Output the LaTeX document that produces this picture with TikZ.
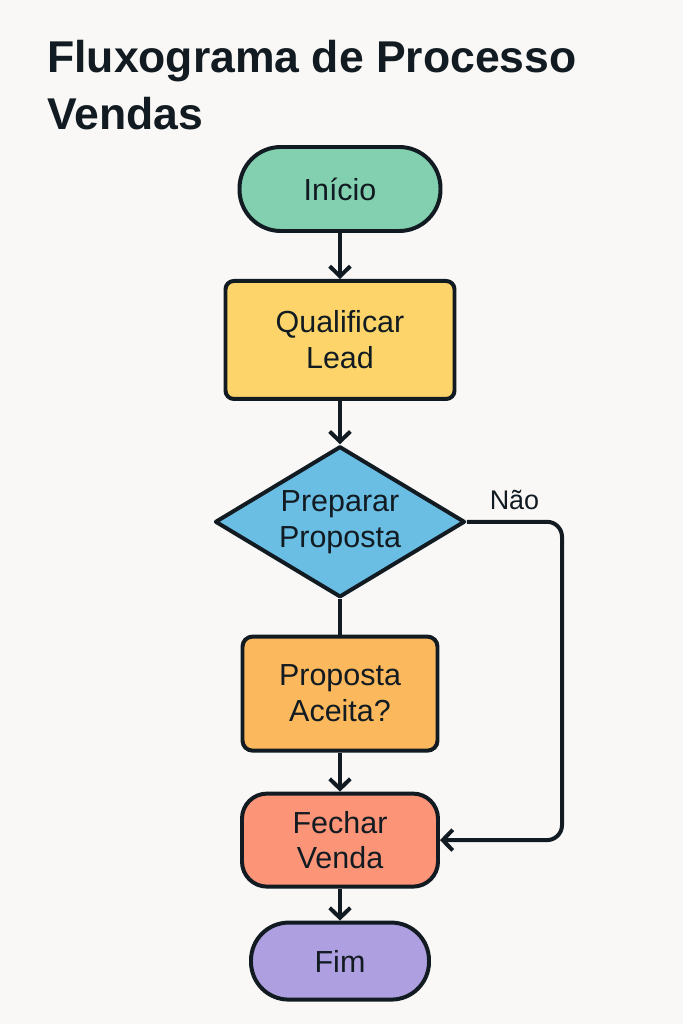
\documentclass[tikz,border=0pt]{standalone}
\usepackage{fontspec}
\setmainfont{Liberation Sans}
\usepackage{tikz}
\usetikzlibrary{shapes.geometric, arrows.meta, positioning, backgrounds}
\definecolor{paperbg}{RGB}{249,248,246}
\definecolor{inkdark}{RGB}{17,27,33}
\definecolor{startgreen}{RGB}{130,208,176}
\definecolor{leadyellow}{RGB}{252,212,106}
\definecolor{propblue}{RGB}{107,190,227}
\definecolor{aceitaorange}{RGB}{252,184,92}
\definecolor{fecharsalmon}{RGB}{252,148,120}
\definecolor{fimpurple}{RGB}{174,160,224}
\tikzset{
  flowbox/.style={rectangle, draw=inkdark, line width=3.4pt, line join=round,
    align=center, text=inkdark, inner sep=0pt,
    font=\fontsize{26}{30.7}\selectfont},
  terminal/.style={flowbox, rounded corners=1.2cm},
  stepbox/.style={flowbox, rounded corners=0.25cm},
  decision/.style={flowbox, diamond, aspect=1.66},
  arrow/.style={-{Straight Barb[length=0.3cm, width=0.62cm]},
    line width=3.4pt, color=inkdark},
  flowline/.style={line width=3.4pt, color=inkdark},
  titletext/.style={font=\fontsize{38}{48}\selectfont\bfseries, text=inkdark,
    inner sep=0pt, anchor=base west},
}

\begin{document}
\begin{tikzpicture}

  \begin{scope}[on background layer]
    \fill[paperbg] (0,0) rectangle (20.49,-30.72);
  \end{scope}
  \useasboundingbox (0,0) rectangle (20.49,-30.72);

  %% ── Title ───────────────────────────────────────────────────
  \node[titletext] (title) at (1.41,-2.19) {Fluxograma de Processo};
  \node[titletext] (subtitle) at ([yshift=-1.71cm]title.base west) {Vendas};

  %% ── Main flow ───────────────────────────────────────────────
  \node[terminal, fill=startgreen, minimum width=6.03cm, minimum height=2.52cm,
        rounded corners=1.24cm] (inicio) at (10.2,-5.67) {Início};
  \node[stepbox, fill=leadyellow, below=1.38cm of inicio,
        minimum width=6.87cm, minimum height=3.54cm] (qualificar)
    {Qualificar\\Lead};
  \node[decision, fill=propblue, below=1.3cm of qualificar,
        minimum width=7.5cm, minimum height=4.53cm] (preparar)
    {Preparar\\Proposta};
  \node[stepbox, fill=aceitaorange, below=1.06cm of preparar,
        minimum width=5.85cm, minimum height=3.42cm, rounded corners=0.3cm] (aceita)
    {Proposta\\Aceita?};
  \node[stepbox, fill=fecharsalmon, below=1.17cm of aceita,
        minimum width=5.88cm, minimum height=2.79cm, rounded corners=0.75cm] (fechar)
    {Fechar\\Venda};
  \node[terminal, fill=fimpurple, below=0.96cm of fechar,
        minimum width=5.34cm, minimum height=2.31cm, rounded corners=1.13cm] (fim)
    {Fim};

  \draw[arrow] (inicio) -- (qualificar);
  \draw[arrow] (qualificar) -- (preparar);
  \draw[flowline] (preparar) -- (aceita);
  \draw[arrow] (aceita) -- (fechar);
  \draw[arrow] (fechar) -- (fim);

  %% ── Rejection loop ──────────────────────────────────────────
  \coordinate (loopturn) at (16.86,0 |- fechar.east);
  \draw[arrow, rounded corners=0.45cm] (preparar.east)
    -| node[pos=0.25, above=0.18cm, font=\fontsize{23}{28}\selectfont, text=inkdark]
       {Não} (loopturn) -- (fechar.east);

\end{tikzpicture}
\end{document}
